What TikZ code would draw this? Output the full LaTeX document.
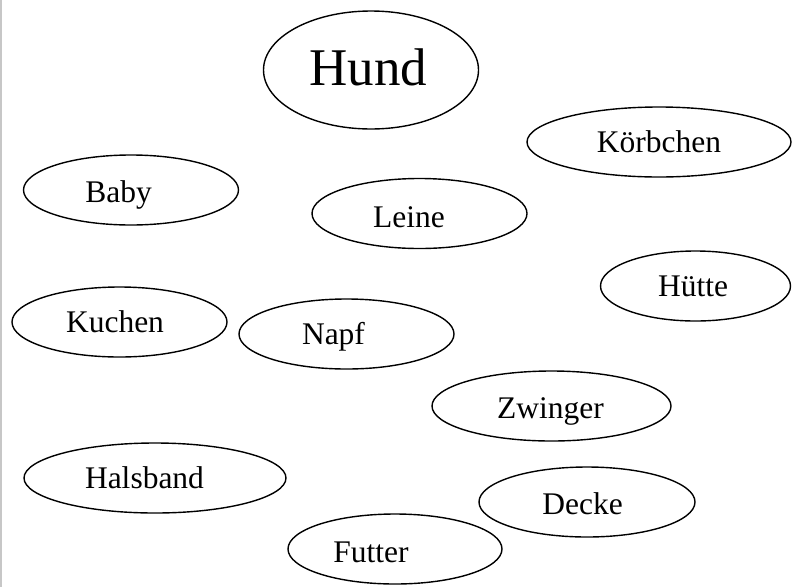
\documentclass[tikz,border=0pt]{standalone}
\usepackage{fontspec}
\setmainfont{Liberation Serif}
\usetikzlibrary{shapes.geometric}

\begin{document}
\begin{tikzpicture}[x=1pt,y=-1pt,
        blob/.style={ellipse,draw,line width=1.4pt,inner sep=0pt,minimum height=70pt},
        word/.style={inner sep=0pt,font=\fontsize{31.5}{36}\selectfont,text height=21pt,text depth=0pt},
        big/.style={word,font=\fontsize{53}{60}\selectfont,text height=35pt}]
        \useasboundingbox (0,0) rectangle (802,587);
        \draw[black!22,line width=2pt] (1,0) -- (1,587);
        \node[blob,minimum width=215pt,minimum height=118pt,label={[big,xshift=-2.5pt,yshift=2.5pt]center:Hund}] (hund) at (371,70) {};
        \node[blob,minimum width=264pt,label={[word]center:Körbchen}] (koerbchen) at (659,142) {};
        \node[blob,minimum width=215pt,label={[word,xshift=-12.5pt,yshift=-1.5pt]center:Baby}] (baby) at (131,190) {};
        \node[blob,minimum width=215pt,label={[word,xshift=-10.5pt,yshift=-3pt]center:Leine}] (leine) at (419.5,213.5) {};
        \node[blob,minimum width=190pt,label={[word,xshift=-2.5pt]center:Hütte}] (huette) at (695.5,286) {};
        \node[blob,minimum width=215pt,label={[word,xshift=-4.5pt]center:Kuchen}] (kuchen) at (119.5,322) {};
        \node[blob,minimum width=215pt,label={[word,xshift=-13pt]center:Napf}] (napf) at (346.5,334) {};
        \node[blob,minimum width=239pt,label={[word,xshift=-1pt,yshift=-1.5pt]center:Zwinger}] (zwinger) at (551.5,406) {};
        \node[blob,minimum width=262pt,label={[word,xshift=-10.5pt]center:Halsband}] (halsband) at (155,478) {};
        \node[blob,minimum width=216pt,label={[word,xshift=-4.5pt,yshift=-1.5pt]center:Decke}] (decke) at (587,502) {};
        \node[blob,minimum width=214pt,label={[word,xshift=-24pt,yshift=-2.5pt]center:Futter}] (futter) at (395,549) {};
\end{tikzpicture}
\end{document}
